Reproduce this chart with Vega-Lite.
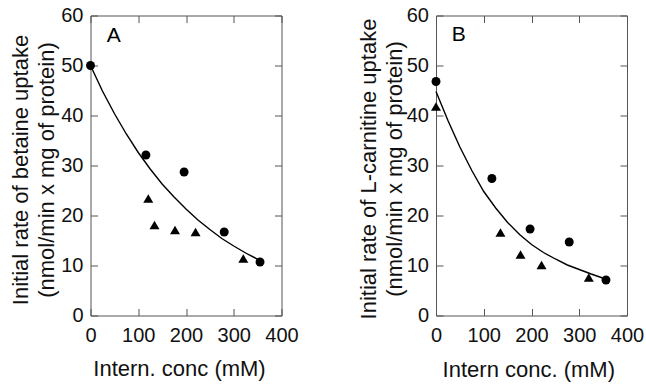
{
  "$schema": "https://vega.github.io/schema/vega-lite/v6.json",
  "autosize": {"type": "none"},
  "padding": {"left": 90.5, "top": 15.5, "right": 555.5, "bottom": 369.5},
  "background": "white",
  "spacing": 154.5,
  "bounds": "flush",
  "datasets": {
    "a": [
      {"conc": 0, "rate": 50, "series": "curve"},
      {"conc": 25, "rate": 44.9, "series": "curve"},
      {"conc": 50, "rate": 40.4, "series": "curve"},
      {"conc": 75, "rate": 36.3, "series": "curve"},
      {"conc": 100, "rate": 32.6, "series": "curve"},
      {"conc": 125, "rate": 29.3, "series": "curve"},
      {"conc": 150, "rate": 26.3, "series": "curve"},
      {"conc": 175, "rate": 23.7, "series": "curve"},
      {"conc": 200, "rate": 21.3, "series": "curve"},
      {"conc": 225, "rate": 19.1, "series": "curve"},
      {"conc": 250, "rate": 17.2, "series": "curve"},
      {"conc": 275, "rate": 15.4, "series": "curve"},
      {"conc": 300, "rate": 13.9, "series": "curve"},
      {"conc": 325, "rate": 12.5, "series": "curve"},
      {"conc": 355, "rate": 11.0, "series": "curve"},
      {"conc": 0, "rate": 50, "series": "circle"},
      {"conc": 116, "rate": 32.1, "series": "circle"},
      {"conc": 196, "rate": 28.7, "series": "circle"},
      {"conc": 280, "rate": 16.7, "series": "circle"},
      {"conc": 355, "rate": 10.7, "series": "circle"},
      {"conc": 121, "rate": 23.4, "series": "triangle"},
      {"conc": 134, "rate": 18.1, "series": "triangle"},
      {"conc": 177, "rate": 17.1, "series": "triangle"},
      {"conc": 220, "rate": 16.7, "series": "triangle"},
      {"conc": 320, "rate": 11.4, "series": "triangle"},
      {"conc": 34, "rate": 54.8, "series": "label", "text": "A"}
    ],
    "b": [
      {"conc": 0, "rate": 44.8, "series": "curve"},
      {"conc": 25, "rate": 39.0, "series": "curve"},
      {"conc": 50, "rate": 33.7, "series": "curve"},
      {"conc": 75, "rate": 29.0, "series": "curve"},
      {"conc": 100, "rate": 24.8, "series": "curve"},
      {"conc": 125, "rate": 21.5, "series": "curve"},
      {"conc": 150, "rate": 18.6, "series": "curve"},
      {"conc": 175, "rate": 16.2, "series": "curve"},
      {"conc": 200, "rate": 14.2, "series": "curve"},
      {"conc": 225, "rate": 12.6, "series": "curve"},
      {"conc": 250, "rate": 11.3, "series": "curve"},
      {"conc": 275, "rate": 10.1, "series": "curve"},
      {"conc": 300, "rate": 9.2, "series": "curve"},
      {"conc": 325, "rate": 8.3, "series": "curve"},
      {"conc": 355, "rate": 7.3, "series": "curve"},
      {"conc": 0, "rate": 46.8, "series": "circle"},
      {"conc": 117, "rate": 27.4, "series": "circle"},
      {"conc": 197, "rate": 17.3, "series": "circle"},
      {"conc": 279, "rate": 14.7, "series": "circle"},
      {"conc": 356, "rate": 7.1, "series": "circle"},
      {"conc": 0, "rate": 41.8, "series": "triangle"},
      {"conc": 135, "rate": 16.6, "series": "triangle"},
      {"conc": 177, "rate": 12.2, "series": "triangle"},
      {"conc": 221, "rate": 10.1, "series": "triangle"},
      {"conc": 320, "rate": 7.6, "series": "triangle"},
      {"conc": 33, "rate": 54.9, "series": "label", "text": "B"}
    ]
  },
  "config": {
    "view": {"stroke": null},
    "axis": {
      "grid": false,
      "domainColor": "#555",
      "domainWidth": 1,
      "tickColor": "#555",
      "tickWidth": 1,
      "tickSize": -7,
      "labelFont": "Liberation Sans",
      "labelFontSize": 20,
      "labelColor": "#111",
      "labelFlush": false,
      "labelOverlap": false,
      "labelBound": false,
      "titleFont": "Liberation Sans",
      "titleFontSize": 22,
      "titleFontWeight": "normal",
      "titleColor": "#111",
      "titleBaseline": "middle",
      "titleAlign": "center",
      "titleLineHeight": 26
    },
    "axisX": {"labelPadding": 16.5},
    "axisY": {"labelPadding": 14.5}
  },
  "hconcat": [
    {
      "width": 191,
      "height": 300,
      "data": {"name": "a"},
      "resolve": {"axis": {"x": "independent", "y": "independent"}},
      "layer": [
        {
          "transform": [{"filter": "datum.series === 'curve'"}],
          "mark": {"type": "line", "color": "black", "strokeWidth": 1.4},
          "encoding": {
            "x": {"field": "conc", "type": "quantitative", "scale": {"domain": [0, 400], "nice": false},
                  "axis": {"orient": "bottom", "values": [0, 100, 200, 300, 400], "title": "Intern. conc (mM)", "titleX": 88.5, "titleY": 52.5}},
            "y": {"field": "rate", "type": "quantitative", "scale": {"domain": [0, 60], "nice": false},
                  "axis": {"orient": "left", "values": [0, 10, 20, 30, 40, 50, 60], "title": ["Initial rate of betaine uptake", "(nmol/min x mg of protein)"], "titleX": -70.5, "titleY": 154, "titleAngle": -90}}
          }
        },
        {
          "transform": [{"filter": "datum.series === 'circle'"}],
          "mark": {"type": "point", "shape": "circle", "filled": true, "color": "black", "opacity": 1, "size": 80},
          "encoding": {
            "x": {"field": "conc", "type": "quantitative", "scale": {"domain": [0, 400], "nice": false},
                  "axis": {"orient": "top", "values": [0, 100, 200, 300, 400], "labels": false, "title": null}},
            "y": {"field": "rate", "type": "quantitative", "scale": {"domain": [0, 60], "nice": false},
                  "axis": {"orient": "right", "values": [0, 10, 20, 30, 40, 50, 60], "labels": false, "title": null}}
          }
        },
        {
          "transform": [{"filter": "datum.series === 'triangle'"}],
          "mark": {"type": "point", "shape": "triangle-up", "filled": true, "color": "black", "opacity": 1, "size": 100},
          "encoding": {
            "x": {"field": "conc", "type": "quantitative", "axis": null},
            "y": {"field": "rate", "type": "quantitative", "axis": null}
          }
        },
        {
          "transform": [{"filter": "datum.series === 'label'"}],
          "mark": {"type": "text", "align": "left", "baseline": "alphabetic", "font": "Liberation Sans", "fontSize": 21, "color": "black"},
          "encoding": {
            "x": {"field": "conc", "type": "quantitative", "axis": null},
            "y": {"field": "rate", "type": "quantitative", "axis": null},
            "text": {"field": "text"}
          }
        }
      ]
    },
    {
      "width": 191,
      "height": 300,
      "data": {"name": "b"},
      "resolve": {"axis": {"x": "independent", "y": "independent"}},
      "layer": [
        {
          "transform": [{"filter": "datum.series === 'curve'"}],
          "mark": {"type": "line", "color": "black", "strokeWidth": 1.4},
          "encoding": {
            "x": {"field": "conc", "type": "quantitative", "scale": {"domain": [0, 400], "nice": false},
                  "axis": {"orient": "bottom", "values": [0, 100, 200, 300, 400], "title": "Intern conc. (mM)", "titleX": 92.3, "titleY": 54}},
            "y": {"field": "rate", "type": "quantitative", "scale": {"domain": [0, 60], "nice": false},
                  "axis": {"orient": "left", "values": [0, 10, 20, 30, 40, 50, 60], "title": ["Initial rate of L-carnitine uptake", "(nmol/min x mg of protein)"], "titleX": -67.5, "titleY": 153, "titleAngle": -90}}
          }
        },
        {
          "transform": [{"filter": "datum.series === 'circle'"}],
          "mark": {"type": "point", "shape": "circle", "filled": true, "color": "black", "opacity": 1, "size": 80},
          "encoding": {
            "x": {"field": "conc", "type": "quantitative", "scale": {"domain": [0, 400], "nice": false},
                  "axis": {"orient": "top", "values": [0, 100, 200, 300, 400], "labels": false, "title": null}},
            "y": {"field": "rate", "type": "quantitative", "scale": {"domain": [0, 60], "nice": false},
                  "axis": {"orient": "right", "values": [0, 10, 20, 30, 40, 50, 60], "labels": false, "title": null}}
          }
        },
        {
          "transform": [{"filter": "datum.series === 'triangle'"}],
          "mark": {"type": "point", "shape": "triangle-up", "filled": true, "color": "black", "opacity": 1, "size": 100},
          "encoding": {
            "x": {"field": "conc", "type": "quantitative", "axis": null},
            "y": {"field": "rate", "type": "quantitative", "axis": null}
          }
        },
        {
          "transform": [{"filter": "datum.series === 'label'"}],
          "mark": {"type": "text", "align": "left", "baseline": "alphabetic", "font": "Liberation Sans", "fontSize": 21, "color": "black"},
          "encoding": {
            "x": {"field": "conc", "type": "quantitative", "axis": null},
            "y": {"field": "rate", "type": "quantitative", "axis": null},
            "text": {"field": "text"}
          }
        }
      ]
    }
  ]
}
